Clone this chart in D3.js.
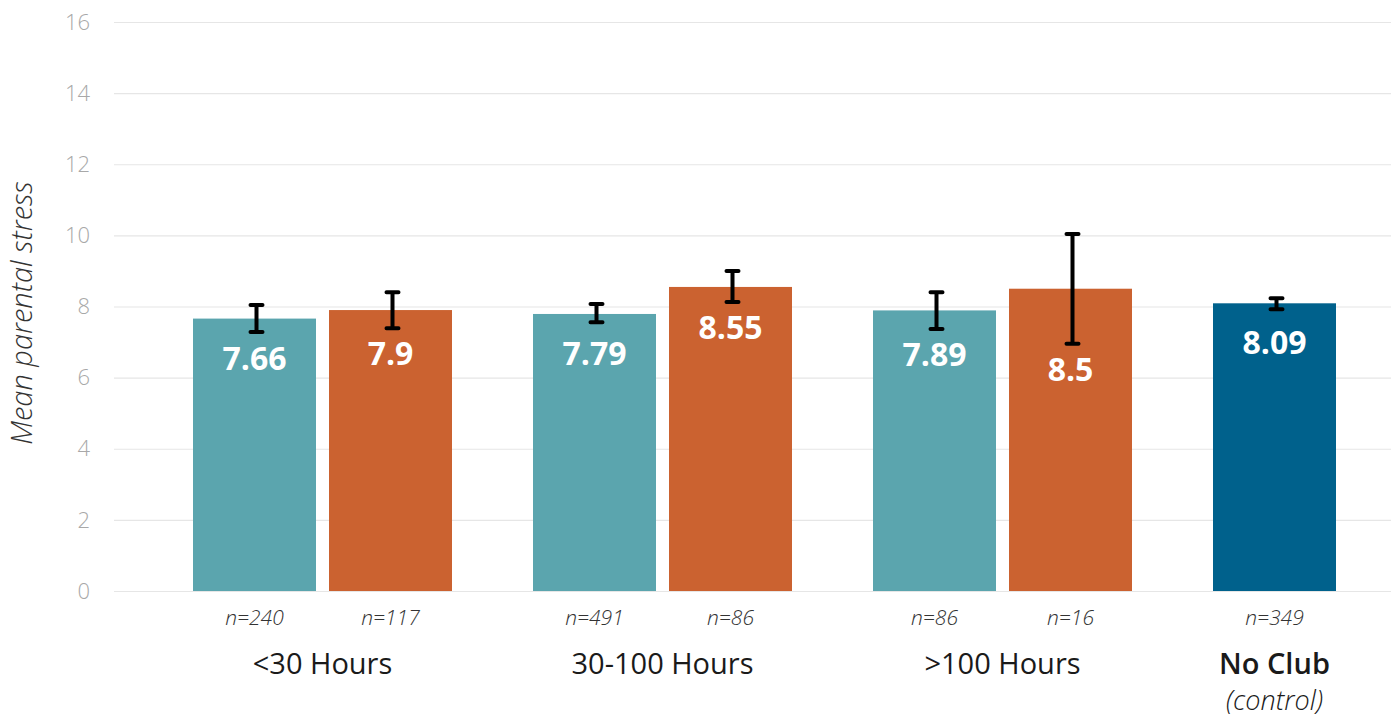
<!DOCTYPE html>
<html>
<head>
<meta charset="utf-8">
<script src="https://cdn.jsdelivr.net/npm/d3@7"></script>
<style>
  body { margin: 0; background: #fff; }
  svg { display: block; font-family: 'Open Sans', sans-serif; }
  .grid line { stroke: #e6e6e6; stroke-width: 1.2; }
  .tick-label { fill: #a8a8a8; font-size: 22px; font-weight: 300; }
  .y-title { fill: #333; font-size: 29px; font-style: italic; font-weight: 300; }
  .bar-label { fill: #fff; font-size: 32px; font-weight: 700; }
  .n-label { fill: #333; font-size: 21px; font-style: italic; font-weight: 300; }
  .group-label { fill: #1a1a1a; font-size: 29px; }
  .group-sub { fill: #1a1a1a; font-size: 27px; font-style: italic; font-weight: 300; }
  .err { stroke: #000; stroke-width: 4; stroke-linecap: round; fill: none; }
</style>
</head>
<body>
<svg width="1391" height="718"></svg>
<script>
'use strict';

// categories
var groupLabels = ['<30 Hours', '30-100 Hours', '>100 Hours', 'No Club'];
var groupSubLabels = ['', '', '', '(control)'];
var yTicks = [0, 2, 4, 6, 8, 10, 12, 14, 16];

// teal series (first bar of each club group)
var meansA = [7.66, 7.79, 7.89];
var lowA = [7.28, 7.56, 7.37];
var highA = [8.04, 8.07, 8.40];
var nA = [240, 491, 86];

// orange series (second bar of each club group)
var meansB = [7.9, 8.55, 8.5];
var lowB = [7.39, 8.13, 6.95];
var highB = [8.40, 9.00, 10.04];
var nB = [117, 86, 16];

// control
var meansC = [8.09];
var lowC = [7.92];
var highC = [8.23];
var nC = [349];

var COLORS = { a: '#5ba5ae', b: '#cb6230', c: '#00618c' };

var WIDTH = 1391, HEIGHT = 718,
  PAD = { left: 114, top: 22, bottom: 127 };

var bars = [];
meansA.forEach(function(m, i) {
  bars.push({ group: groupLabels[i], slot: 'a', color: COLORS.a, mean: m, low: lowA[i], high: highA[i], n: nA[i] });
  bars.push({ group: groupLabels[i], slot: 'b', color: COLORS.b, mean: meansB[i], low: lowB[i], high: highB[i], n: nB[i] });
});
meansC.forEach(function(m, i) {
  bars.push({ group: groupLabels[3], slot: 'a', color: COLORS.c, mean: m, low: lowC[i], high: highC[i], n: nC[i] });
});

var svg = d3.select('svg');
var plotH = HEIGHT - PAD.top - PAD.bottom;

var y = d3.scaleLinear().domain([0, 16]).range([plotH, 0]);

var x0 = d3.scaleBand()
  .domain(groupLabels)
  .range([38.5, 38.5 + 340 * 4])
  .paddingInner(81 / 340)
  .paddingOuter(81 / 680);

var x1 = d3.scaleBand()
  .domain(['a', 'b'])
  .range([0, x0.bandwidth()])
  .paddingInner(13 / 136);

var g = svg.append('g')
  .attr('transform', 'translate(' + PAD.left + ',' + PAD.top + ')');

// grid
var grid = g.append('g')
  .attr('class', 'grid')
  .call(d3.axisLeft(y).tickValues(yTicks).tickSize(-(WIDTH - PAD.left)).tickFormat(''));
grid.select('.domain').remove();

// tick labels
g.selectAll('.tick-label')
  .data(yTicks)
  .enter().append('text')
  .attr('class', 'tick-label')
  .attr('x', -24)
  .attr('y', function(d) { return y(d); })
  .attr('dy', '0.35em')
  .attr('text-anchor', 'end')
  .text(function(d) { return d; });

// y title
svg.append('text')
  .attr('class', 'y-title')
  .attr('transform', 'translate(32,' + (PAD.top + 291) + ') rotate(-90)')
  .attr('text-anchor', 'middle')
  .text('Mean parental stress');

function barX(d) { return x0(d.group) + x1(d.slot); }
function barCx(d) { return barX(d) + x1.bandwidth() / 2; }

var barG = g.selectAll('.bar')
  .data(bars)
  .enter().append('g')
  .attr('class', 'bar');

barG.append('rect')
  .attr('x', barX)
  .attr('y', function(d) { return y(d.mean); })
  .attr('width', x1.bandwidth())
  .attr('height', function(d) { return plotH - y(d.mean); })
  .attr('fill', function(d) { return d.color; });

// error bars
barG.append('path')
  .attr('class', 'err')
  .attr('d', function(d) {
    var cx = barCx(d) + 2, hw = 6;
    return 'M' + cx + ',' + y(d.high) + 'V' + y(d.low) +
      'M' + (cx - hw) + ',' + y(d.high) + 'H' + (cx + hw) +
      'M' + (cx - hw) + ',' + y(d.low) + 'H' + (cx + hw);
  });

// value labels
barG.append('text')
  .attr('class', 'bar-label')
  .attr('x', barCx)
  .attr('y', function(d) { return Math.max(y(d.mean) + 40, y(d.low) + 26); })
  .attr('dy', '0.35em')
  .attr('text-anchor', 'middle')
  .text(function(d) { return d.mean; });

// n labels
barG.append('text')
  .attr('class', 'n-label')
  .attr('x', barCx)
  .attr('y', plotH + 27)
  .attr('dy', '0.35em')
  .attr('text-anchor', 'middle')
  .text(function(d) { return 'n=' + d.n; });

// group labels
function groupCenter(label, i) {
  return i === 3 ? x0(label) + x1('a') + x1.bandwidth() / 2 : x0(label) + x0.bandwidth() / 2;
}

g.selectAll('.group-label')
  .data(groupLabels)
  .enter().append('text')
  .attr('class', 'group-label')
  .attr('x', groupCenter)
  .attr('y', plotH + 73)
  .attr('dy', '0.35em')
  .attr('text-anchor', 'middle')
  .style('font-weight', function(d, i) { return i === 3 ? 600 : 400; })
  .text(function(d) { return d; });

g.selectAll('.group-sub')
  .data(groupSubLabels)
  .enter().append('text')
  .attr('class', 'group-sub')
  .attr('x', function(d, i) { return groupCenter(groupLabels[i], i); })
  .attr('y', plotH + 110)
  .attr('dy', '0.35em')
  .attr('text-anchor', 'middle')
  .text(function(d) { return d; });
</script>
</body>
</html>
